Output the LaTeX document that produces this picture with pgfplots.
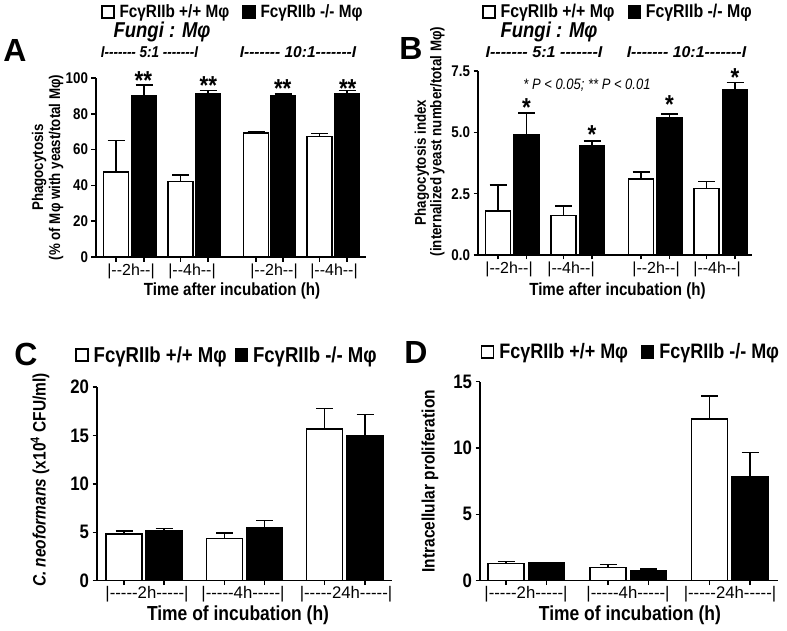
\documentclass[border=0pt]{standalone}
\usepackage{fontspec}
\setmainfont{Liberation Sans}[FakeStretch=0.86, Ligatures=TeXOff]
\newfontfamily\plainfont{Liberation Sans}
\usepackage{pgfplots}
\pgfplotsset{compat=1.18}
\newcommand{\fs}[1]{\fontsize{#1}{#1}\selectfont}
\newcommand{\wide}[1]{\scalebox{1.16}[1]{#1}}

\pgfplotsset{
  panel/.style={
    scale only axis,
    axis x line*=bottom, axis y line*=left,
    axis line style={line width=1.5pt, black},
    tick align=outside, major tick length=4.5pt,
    tick style={line width=1.5pt, black},
    xticklabels={},
    /pgf/number format/assume math mode=true,
    clip=false,
    legend style={draw=none, fill=none, legend columns=2, inner sep=0pt, anchor=center,
      /tikz/every odd column/.append style={column sep=3pt},
      /tikz/every even column/.append style={column sep=11pt}},
    extra x tick style={major tick length=0pt},
  },
  wbar/.style={ybar, bar shift=0pt, fill=white, draw=black, line width=1.5pt,
    legend image code/.code={\draw[fill=white,draw=black,line width=1.3pt] (0pt,-6pt) rectangle (12pt,6pt);},
    error bars/y dir=plus, error bars/y explicit,
    error bars/error bar style={line width=1.5pt, black},
    error bars/error mark options={rotate=90, line width=1.5pt, mark size=8.5pt, black}},
  kbar/.style={ybar, bar shift=0pt, fill=black, draw=black, line width=1.5pt,
    legend image code/.code={\draw[fill=black,draw=black,line width=1.3pt] (0pt,-6pt) rectangle (12pt,6pt);},
    error bars/y dir=plus, error bars/y explicit,
    error bars/error bar style={line width=1.5pt, black},
    error bars/error mark options={rotate=90, line width=1.5pt, mark size=8.5pt, black}},
}

\begin{document}
\begin{tikzpicture}[x=1pt,y=1pt]

% ---------------- Panel A ----------------
\begin{axis}[panel,
  at={(96pt,373pt)}, anchor=south west,
  width=270pt, height=179pt,
  xmin=96, xmax=366, ymin=0, ymax=100,
  bar width=25pt,
  ytick={0,20,40,60,80,100},
  yticklabel style={font=\bfseries\fs{15.5}},
  xtick={116,144,180.5,208,256,283,319.5,347},
  extra x ticks={131,192,274,334},
  extra x tick labels={\wide{|--2h--|},\wide{|--4h--|},\wide{|--2h--|},\wide{|--4h--|}},
  extra x tick style={major tick length=0pt, tick label style={font=\fs{16}, yshift=-3pt}},
  xlabel={Time after incubation (h)},
  xlabel style={font=\bfseries\fs{17.6}, at={(axis description cs:0.504,-0.187)}, anchor=center},
  ylabel={Phagocytosis\\(\% of Mφ with yeast/total Mφ)},
  ylabel style={font=\bfseries\fontsize{15.5}{17}\selectfont, align=center, at={(axis description cs:-0.179,0.5)}, anchor=center},
  legend style={at={(0.507,1.369)}, font=\bfseries\fs{17.8}},
]
\addplot[wbar] coordinates {(116,47.6) +- (0,17.4) (180.5,42.1) +- (0,3.7) (256,69.4) +- (0,0.6) (319.5,67.4) +- (0,1.7)};
\addlegendentry{FcγRIIb +/+ Mφ}
\addplot[kbar] coordinates {(144,89.9) +- (0,6.2) (208,91.4) +- (0,1.5) (283,90.3) +- (0,0.8) (347,91.4) +- (0,1.5)};
\addlegendentry{FcγRIIb -/- Mφ}
\end{axis}

% ---------------- Panel B ----------------
\begin{axis}[panel,
  at={(478pt,375pt)}, anchor=south west,
  width=274pt, height=184pt,
  xmin=478, xmax=752, ymin=0, ymax=7.5,
  bar width=25pt,
  ytick={0,2.5,5,7.5}, yticklabels={0.0,2.5,5.0,7.5},
  yticklabel style={font=\bfseries\fs{15.5}},
  xtick={498,526.5,563.5,592,641,669.5,706.5,735},
  extra x ticks={509,571,656,717},
  extra x tick labels={\wide{|--2h--|},\wide{|--4h--|},\wide{|--2h--|},\wide{|--4h--|}},
  extra x tick style={major tick length=0pt, tick label style={font=\fs{16}, yshift=-3pt}},
  xlabel={Time after incubation (h)},
  xlabel style={font=\bfseries\fs{17.6}, at={(axis description cs:0.509,-0.193)}, anchor=center},
  ylabel={Phagocytosis index\hspace*{42pt}\\(internalized yeast number/total Mφ)},
  ylabel style={font=\bfseries\fontsize{15.5}{15.5}\selectfont, align=center, at={(axis description cs:-0.177,0.617)}, anchor=center},
  legend style={at={(0.511,1.321)}, font=\bfseries\fs{18.5}},
]
\addplot[wbar] coordinates {(498,1.79) +- (0,1.07) (563.5,1.60) +- (0,0.40) (641,3.09) +- (0,0.30) (706.5,2.71) +- (0,0.29)};
\addlegendentry{FcγRIIb +/+ Mφ}
\addplot[kbar] coordinates {(526.5,4.90) +- (0,0.88) (592,4.45) +- (0,0.20) (669.5,5.59) +- (0,0.15) (735,6.73) +- (0,0.30)};
\addlegendentry{FcγRIIb -/- Mφ}
\end{axis}

% ---------------- Panel C ----------------
\begin{axis}[panel,
  at={(97pt,49.3pt)}, anchor=south west,
  width=295pt, height=193.6pt,
  xmin=97, xmax=392, ymin=0, ymax=20,
  bar width=36pt,
  ytick={0,5,10,15,20},
  yticklabel style={font=\bfseries\fs{19.5}},
  xtick={124,164,224.5,264.5,324.5,365},
  extra x ticks={147,243,346},
  extra x tick labels={\wide{|-----2h-----|},\wide{|-----4h-----|},\wide{|-----24h-----|}},
  extra x tick style={major tick length=0pt, tick label style={font=\fs{16.8}, yshift=-2.5pt}},
  xlabel={Time of incubation (h)},
  xlabel style={font=\bfseries\fs{20.3}, at={(axis description cs:0.478,-0.18)}, anchor=center},
  ylabel={\textit{C. neoformans} (x10\textsuperscript{4} CFU/ml)},
  ylabel style={font=\bfseries\fs{18}, at={(axis description cs:-0.193,0.52)}, anchor=center},
  legend style={at={(0.441,1.166)}, font=\bfseries\fs{21.6},
    /tikz/every even column/.append style={column sep=6pt}},
]
\addplot[wbar] coordinates {(124,4.82) +- (0,0.31) (224.5,4.38) +- (0,0.55) (324.5,15.67) +- (0,2.10)};
\addlegendentry{FcγRIIb +/+ Mφ}
\addplot[kbar] coordinates {(164,5.13) +- (0,0.24) (264.5,5.51) +- (0,0.69) (365,15.02) +- (0,2.13)};
\addlegendentry{FcγRIIb -/- Mφ}
\end{axis}

% ---------------- Panel D ----------------
\begin{axis}[panel,
  at={(480pt,49.3pt)}, anchor=south west,
  width=298pt, height=199pt,
  xmin=480, xmax=778, ymin=0, ymax=15,
  bar width=36pt,
  ytick={0,5,10,15},
  yticklabel style={font=\bfseries\fs{19.5}},
  xtick={506,546.5,608,648.5,709.5,750},
  extra x ticks={526,628,730},
  extra x tick labels={\wide{|-----2h-----|},\wide{|-----4h-----|},\wide{|-----24h-----|}},
  extra x tick style={major tick length=0pt, tick label style={font=\fs{16.8}, yshift=-2.5pt}},
  xlabel={Time of incubation (h)},
  xlabel style={font=\bfseries\fs{20.3}, at={(axis description cs:0.503,-0.175)}, anchor=center},
  ylabel={Intracellular proliferation},
  ylabel style={font=\bfseries\fs{18}, at={(axis description cs:-0.168,0.5)}, anchor=center},
  legend style={at={(0.507,1.149)}, font=\bfseries\fs{20.9}},
]
\addplot[wbar] coordinates {(506,1.31) +- (0,0.12) (608,0.98) +- (0,0.25) (709.5,12.19) +- (0,1.73)};
\addlegendentry{FcγRIIb +/+ Mφ}
\addplot[kbar] coordinates {(546.5,1.33) +- (0,0.06) (648.5,0.73) +- (0,0.17) (750,7.84) +- (0,1.81)};
\addlegendentry{FcγRIIb -/- Mφ}
\end{axis}

% ---------------- annotations ----------------
\node[font=\plainfont\bfseries\fs{32}] at (15,580) {A};
\node[font=\plainfont\bfseries\fs{32}] at (411,582) {B};
\node[font=\plainfont\bfseries\fs{32}] at (26,276) {C};
\node[font=\plainfont\bfseries\fs{32}] at (416,278) {D};

\node[font=\bfseries\itshape\fs{21.5}] at (162,598) {Fungi : Mφ};
\node[font=\bfseries\itshape\fs{15.7}] at (149.5,578) {I------- 5:1 -------I};
\node[font=\bfseries\itshape\fs{15.7}] at (298,578) {\scalebox{1.15}[1]{I------- 10:1-------I}};
\node[font=\bfseries\itshape\fs{21.5}] at (549,598) {Fungi : Mφ};
\node[font=\bfseries\itshape\fs{15.7}] at (544,578) {\scalebox{1.2}[1]{I------- 5:1 -------I}};
\node[font=\bfseries\itshape\fs{15.7}] at (686.5,578) {\scalebox{1.18}[1]{I------- 10:1-------I}};
\node[font=\itshape\fs{15.1}] at (587,545) {* P < 0.05; ** P < 0.01};

% significance stars (top of glyph at given y)
\foreach \x/\y in {143.3/558.5, 208.3/554, 282.7/550.7, 347.7/550.7}
  \node[font=\bfseries\fs{26}, anchor=north, inner sep=0pt] at (\x,\y) {**};
\foreach \x/\y in {526.5/531.7, 592/505, 669.5/534.5, 735/561.7}
  \node[font=\bfseries\fs{26}, anchor=north, inner sep=0pt] at (\x,\y) {*};

\pgfresetboundingbox
\path[use as bounding box] (0,0) rectangle (787,630);
\end{tikzpicture}
\end{document}
